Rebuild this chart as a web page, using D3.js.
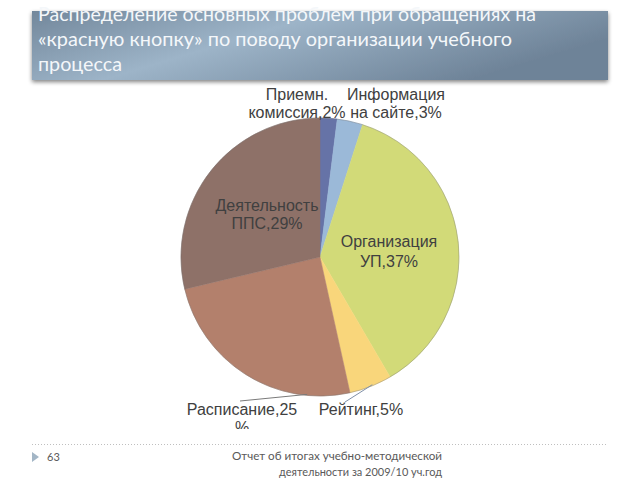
<!DOCTYPE html>
<html><head><meta charset="utf-8">
<script src="https://cdn.jsdelivr.net/npm/d3@7"></script>
<style>html,body{margin:0;padding:0;background:#fff;}svg{display:block;}</style>
</head><body>
<script>
const titleLines = ["Распределение основных проблем при обращениях на", "«красную кнопку» по поводу организации учебного", "процесса"];
const categories = ["Приемн. комиссия", "Информация на сайте", "Организация УП", "Рейтинг", "Расписание", "Деятельность ППС"];
const values = [2, 3, 37, 5, 25, 29];
const labelLines = [["Приемн.", "комиссия,2%"], ["Информация", "на сайте,3%"], ["Организация", "УП,37%"], ["Рейтинг,5%"], ["Расписание,25", "%"], ["Деятельность", "ППС,29%"]];
const colors = ["#6673a7", "#9bb9d8", "#d2da78", "#f9d67b", "#b3806c", "#8e7168"];
const footerPage = "63";
const footerLines = ["Отчет об итогах учебно-методической", "деятельности за 2009/10 уч.год"];

const W = 640, H = 480;
const svg = d3.select("body").append("svg").attr("width", W).attr("height", H);
const defs = svg.append("defs");

// title band
const g1 = defs.append("linearGradient").attr("id", "band").attr("x1", 0).attr("x2", 1).attr("y1", 0).attr("y2", 0.4);
g1.append("stop").attr("offset", "0%").attr("stop-color", "#72879b");
g1.append("stop").attr("offset", "45%").attr("stop-color", "#9db4c8");
g1.append("stop").attr("offset", "100%").attr("stop-color", "#6e8398");
const sh = defs.append("filter").attr("id", "shadow").attr("x", "-5%").attr("y", "-10%").attr("width", "110%").attr("height", "130%");
sh.append("feGaussianBlur").attr("in", "SourceAlpha").attr("stdDeviation", 2);
sh.append("feOffset").attr("dx", 0).attr("dy", 2).attr("result", "b");
sh.append("feComponentTransfer").append("feFuncA").attr("type", "linear").attr("slope", 0.5);
const mg = sh.append("feMerge"); mg.append("feMergeNode"); mg.append("feMergeNode").attr("in", "SourceGraphic");

svg.append("rect").attr("x", 32).attr("y", 11).attr("width", 576).attr("height", 69)
  .attr("fill", "url(#band)").attr("filter", "url(#shadow)");

const titleX = 38, titleBase = [21, 46, 71], titleEnd = [536, 512, 122];
svg.append("g").selectAll("text").data(titleLines).join("text")
  .attr("x", titleX).attr("y", (d, i) => titleBase[i])
  .attr("textLength", (d, i) => titleEnd[i] - titleX).attr("lengthAdjust", "spacingAndGlyphs")
  .attr("font-family", "Lato, 'Open Sans', sans-serif").attr("font-size", 20)
  .attr("fill", "#f4f7fa").text(d => d);

// pie
const cx = 320, cy = 257, r = 139;
const pie = d3.pie().sort(null).value(d => d);
const arcs = pie(values);
const arc = d3.arc().innerRadius(0).outerRadius(r);
const clip = defs.append("clipPath").attr("id", "plot");
clip.append("rect").attr("x", 0).attr("y", 84).attr("width", W).attr("height", 345);

const pg = svg.append("g").attr("transform", `translate(${cx},${cy})`);
pg.selectAll("path").data(arcs).join("path")
  .attr("d", arc).attr("fill", (d, i) => colors[i])
  .attr("stroke", (d, i) => colors[i]).attr("stroke-width", 0.5);
pg.append("circle").attr("r", r).attr("fill", "none").attr("stroke", "#6b6b6b").attr("stroke-opacity", 0.35).attr("stroke-width", 1);

// leader lines
const lg = svg.append("g").attr("stroke", "#7a7a7a").attr("stroke-width", 1).attr("fill", "none");
function edge(i, frac, rr) {
  const a = arcs[i].startAngle + (arcs[i].endAngle - arcs[i].startAngle) * frac;
  return [cx + rr * Math.sin(a), cy - rr * Math.cos(a)];
}
const p4 = edge(4, 0.2, r - 1);
lg.append("line").attr("x1", p4[0]).attr("y1", p4[1]).attr("x2", 240).attr("y2", 401);
const p3 = edge(3, 0.45, r - 1);
lg.append("line").attr("x1", p3[0]).attr("y1", p3[1]).attr("x2", 345).attr("y2", 402).attr("stroke", "#8090a8");

// labels
const labelPos = [[297, 100], [396, 100], [389, 247], [361, 415], [242, 415], [267, 211]];
const lineH = [18, 18, 20, 18, 18, 18];
const fsz = [16, 16, 16, 16, 16, 16];
const tg = svg.append("g").attr("clip-path", "url(#plot)");
labelLines.forEach((lines, i) => {
  tg.append("text").attr("x", labelPos[i][0]).attr("y", labelPos[i][1])
    .attr("text-anchor", "middle").attr("font-family", "'Liberation Sans', Arial, sans-serif")
    .attr("font-size", fsz[i]).attr("fill", "#404040")
    .selectAll("tspan").data(lines).join("tspan")
    .attr("x", labelPos[i][0]).attr("dy", (d, j) => j === 0 ? 0 : lineH[i]).text(d => d);
});

// footer
svg.append("line").attr("x1", 32).attr("x2", 608).attr("y1", 444.5).attr("y2", 444.5)
  .attr("stroke", "#bfbfbf").attr("stroke-width", 1).attr("stroke-dasharray", "1,2");
svg.append("path").attr("d", "M32,452 L39,457 L32,462 Z").attr("fill", "#a3b6c6");
svg.append("text").attr("x", 47).attr("y", 461).attr("font-family", "Lato, sans-serif")
  .attr("font-size", 11).attr("fill", "#595959").text(footerPage);
const fStart = [232, 279], fEnd = 442, fBase = [460, 476];
svg.append("g").selectAll("text").data(footerLines).join("text")
  .attr("x", (d, i) => fStart[i]).attr("y", (d, i) => fBase[i])
  .attr("textLength", (d, i) => fEnd - fStart[i]).attr("lengthAdjust", "spacingAndGlyphs")
  .attr("font-family", "Lato, sans-serif").attr("font-size", 12).attr("fill", "#595959").text(d => d);
</script>
</body></html>
